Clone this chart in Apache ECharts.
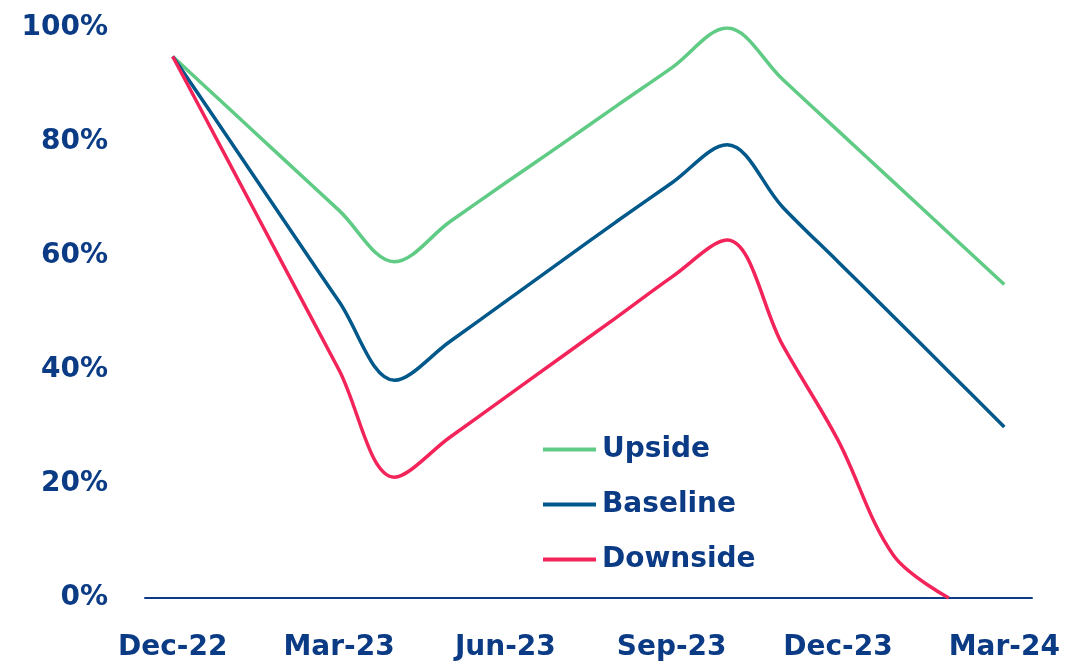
<!DOCTYPE html>
<html>
<head>
<meta charset="utf-8">
<script src="https://cdn.jsdelivr.net/npm/echarts@6/dist/echarts.min.js"></script>
<style>
html,body{margin:0;padding:0;background:#fff;}
#chart{width:1092px;height:663px;}
</style>
</head>
<body>
<div id="chart"></div>
<script>
const months = ['Dec-22','Jan-23','Feb-23','Mar-23','Apr-23','May-23','Jun-23','Jul-23','Aug-23','Sep-23','Oct-23','Nov-23','Dec-23','Jan-24','Feb-24','Mar-24'];
const upside   = [95, 86, 77, 68, 59, 66, 72.8, 79.5, 86.3, 93, 100, 91, 82, 73, 64, 55];
const baseline = [95, 80.7, 66.3, 52, 38.2, 45, 52, 59, 66, 72.8, 79.5, 68.6, 59, 49.4, 39.7, 30];
const downside = [95, 76.7, 58.3, 40, 21.2, 28.2, 35.2, 42.2, 49.2, 56.3, 62.8, 44.4, 27.7, 7.5, 0, null];
const yTicks = [0, 20, 40, 60, 80, 100];

const textColor = '#0B3B84';
const font = 'DejaVu Sans';

const chart = echarts.init(document.getElementById('chart'));
chart.setOption({
  backgroundColor: '#ffffff',
  animation: false,
  grid: { left: 145, right: 60, top: 28, bottom: 65, containLabel: false },
  legend: {
    orient: 'vertical',
    left: 538,
    top: 429,
    icon: 'rect',
    itemWidth: 53,
    itemHeight: 4,
    itemGap: 24,
    data: ['Upside', 'Baseline', 'Downside'],
    textStyle: { color: textColor, fontSize: 28, fontFamily: font, fontWeight: 'bold', lineHeight: 31, padding: [0, 0, 0, 1] }
  },
  xAxis: {
    type: 'category',
    data: months,
    boundaryGap: true,
    axisLine: { show: true, lineStyle: { color: '#0B3B84', width: 2 } },
    axisTick: { show: false },
    axisLabel: { interval: 2, color: textColor, fontSize: 28, fontFamily: font, fontWeight: 'bold', margin: 36 },
    splitLine: { show: false }
  },
  yAxis: {
    type: 'value',
    min: yTicks[0],
    max: yTicks[yTicks.length - 1],
    interval: 20,
    axisLine: { show: false },
    axisTick: { show: false },
    splitLine: { show: false },
    axisLabel: { color: textColor, fontSize: 28, fontFamily: font, fontWeight: 'bold', margin: 37, formatter: '{value}%' }
  },
  series: [
    { name: 'Upside', type: 'line', data: upside, smooth: 0.35, showSymbol: false, symbol: 'none',
      lineStyle: { color: '#5FCB85', width: 3.5 }, itemStyle: { color: '#5FCB85' } },
    { name: 'Baseline', type: 'line', data: baseline, smooth: 0.35, showSymbol: false, symbol: 'none',
      lineStyle: { color: '#00588B', width: 3.5 }, itemStyle: { color: '#00588B' } },
    { name: 'Downside', type: 'line', data: downside, smooth: 0.35, showSymbol: false, symbol: 'none',
      lineStyle: { color: '#F2245A', width: 3.5 }, itemStyle: { color: '#F2245A' } }
  ]
});
</script>
</body>
</html>
